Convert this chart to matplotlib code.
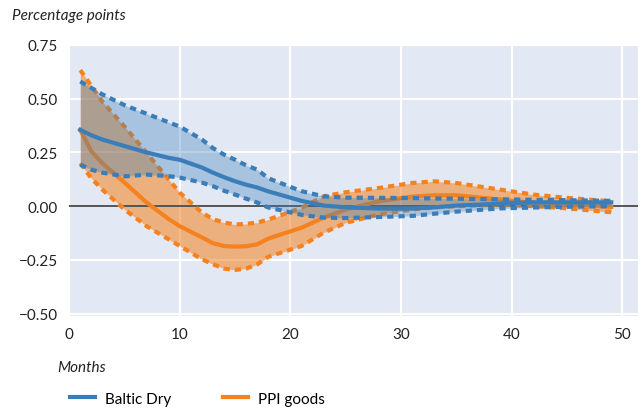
import numpy as np
import matplotlib
matplotlib.use('Agg')
import matplotlib.pyplot as plt
from matplotlib.lines import Line2D

plt.rcParams['font.family'] = ['Lato', 'DejaVu Sans']

# Meses
meses = [1, 2, 3, 5, 7, 9, 10, 12, 13, 14, 15, 16, 17, 18, 21, 23, 25, 28, 31, 33, 35, 39, 42, 45, 49]

# Baltic Dry: respuesta central y bandas
baltic_mid = [0.355, 0.33, 0.31, 0.28, 0.25, 0.225, 0.216, 0.18, 0.156, 0.135, 0.116, 0.10, 0.087, 0.069,
              0.025, 0.003, -0.005, -0.011, -0.011, -0.005, 0.003, 0.012, 0.018, 0.018, 0.018]
baltic_hi = [0.58, 0.55, 0.52, 0.47, 0.43, 0.39, 0.37, 0.31, 0.27, 0.24, 0.216, 0.19, 0.17, 0.13,
             0.07, 0.046, 0.04, 0.039, 0.038, 0.036, 0.035, 0.032, 0.03, 0.028, 0.025]
baltic_lo = [0.193, 0.17, 0.156, 0.139, 0.147, 0.14, 0.133, 0.11, 0.093, 0.072, 0.054, 0.035, 0.017, -0.006,
             -0.04, -0.053, -0.055, -0.05, -0.045, -0.035, -0.025, -0.01, -0.006, -0.002, 0.0]

# PPI goods: respuesta central y bandas
ppi_mid = [0.355, 0.255, 0.20, 0.11, 0.017, -0.06, -0.093, -0.145, -0.172, -0.185, -0.188, -0.186, -0.177, -0.15,
           -0.10, -0.053, -0.015, 0.023, 0.045, 0.051, 0.051, 0.031, 0.015, 0.008, -0.003]
ppi_hi = [0.633, 0.56, 0.486, 0.37, 0.248, 0.124, 0.063, -0.03, -0.06, -0.076, -0.085, -0.082, -0.076, -0.062,
          -0.008, 0.046, 0.065, 0.085, 0.108, 0.116, 0.108, 0.077, 0.054, 0.039, 0.023]
ppi_lo = [0.20, 0.13, 0.077, -0.015, -0.093, -0.154, -0.185, -0.247, -0.27, -0.29, -0.296, -0.29, -0.27, -0.235,
          -0.185, -0.123, -0.077, -0.038, -0.015, -0.005, 0.0, 0.008, 0.0, -0.01, -0.028]

azul = '#3a7db8'
naranja = '#f5821f'

fig = plt.figure(figsize=(6.41, 4.14), dpi=100)
ax = fig.add_axes([0.108, 0.234, 0.887, 0.655])
ax.set_facecolor('#e3e9f4')

# orden: naranja debajo, azul encima
ax.fill_between(meses, ppi_lo, ppi_hi, color=naranja, alpha=0.55, linewidth=0, zorder=2)
ax.plot(meses, ppi_hi, color=naranja, lw=3, ls=(0, (1.5, 1.2)), zorder=3)
ax.plot(meses, ppi_lo, color=naranja, lw=3, ls=(0, (1.5, 1.2)), zorder=3)
ax.plot(meses, ppi_mid, color=naranja, lw=3, zorder=3)

ax.fill_between(meses, baltic_lo, baltic_hi, color=azul, alpha=0.35, linewidth=0, zorder=4)
ax.plot(meses, baltic_hi, color=azul, lw=3, ls=(0, (1.5, 1.2)), zorder=5)
ax.plot(meses, baltic_lo, color=azul, lw=3, ls=(0, (1.5, 1.2)), zorder=5)
ax.plot(meses, baltic_mid, color=azul, lw=3, zorder=5)

ax.axhline(0, color='#555555', lw=1.4, zorder=2.5)

ax.set_xlim(0, 51.4)
ax.set_ylim(-0.511, 0.745)
ax.set_xticks([0, 10, 20, 30, 40, 50])
ax.set_yticks([-0.5, -0.25, 0, 0.25, 0.5, 0.75])
ax.set_yticklabels(['\u22120.50', '\u22120.25', '0.00', '0.25', '0.50', '0.75'])
ax.grid(True, color='white', lw=1.5, zorder=1)
ax.set_axisbelow(True)
for s in ax.spines.values():
    s.set_visible(False)
ax.tick_params(length=0, labelsize=11, labelcolor='#222222', pad=8)

fig.text(0.019, 0.962, 'Percentage points', style='italic', fontsize=11, color='#222222', va='center')
fig.text(0.089, 0.111, 'Months', style='italic', fontsize=11, color='#222222', va='center')

handles = [Line2D([], [], color=azul, lw=3), Line2D([], [], color=naranja, lw=3)]
fig.legend(handles, ['Baltic Dry', 'PPI goods'], loc='center left', bbox_to_anchor=(0.087, 0.035),
           ncol=2, frameon=False, fontsize=11, handlelength=1.65, columnspacing=3.4, handletextpad=0.65)

fig.savefig('out.png', dpi=100)
